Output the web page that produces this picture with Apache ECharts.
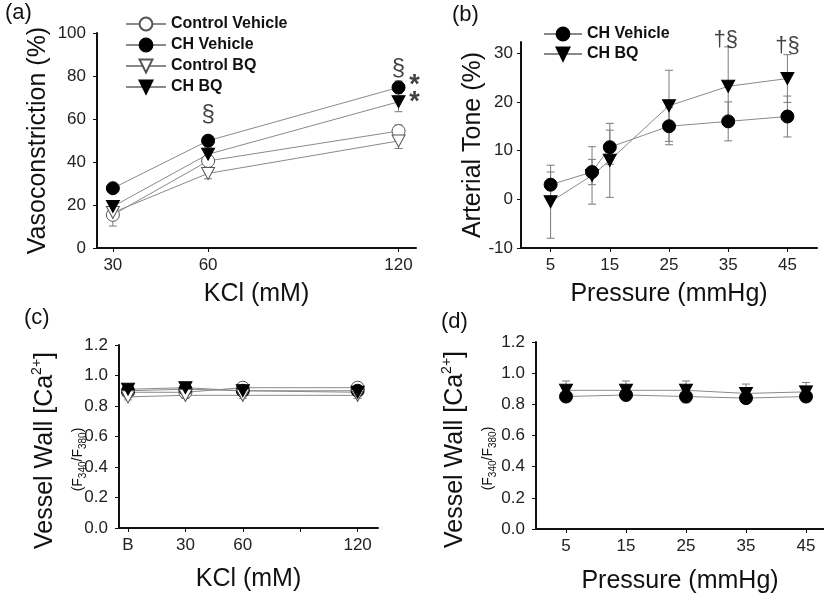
<!DOCTYPE html>
<html>
<head>
<meta charset="utf-8">
<script src="https://cdn.jsdelivr.net/npm/echarts@6/dist/echarts.min.js"></script>
<style>
  html, body { margin: 0; padding: 0; background: #fff; }
  #chart { width: 824px; height: 595px; }
</style>
</head>
<body>
<div id="chart"></div>
<script>
// ---- (a) KCl vasoconstriction ----
const kclDoses = [30, 60, 120];
const ctrlVehA = [15.4, 40.5, 54.4];
const ctrlVehAErr = [5.2, 2.5, 2.8];
const chVehA = [27.8, 49.9, 74.7];
const chVehAErr = [2, 2.5, 3];
const ctrlBqA = [16.5, 34.7, 49.8];
const ctrlBqAErr = [2, 2.5, 3.5];
const chBqA = [19.3, 43.6, 68];
const chBqAErr = [2, 3, 4.6];
// significance marks [x, y, text]
const sigA = [[60, 62, '§'], [120, 83.5, '§']];
const starA = [[125, 75.5, '*'], [125, 67.6, '*']];

// ---- (b) pressure / arterial tone ----
const pressB = [5, 12, 15, 25, 35, 45];
const chVehB = [3.0, 5.6, 10.7, 15.0, 16.0, 17.0];
const chVehBErr = [2.6, 2.6, 3.5, 3.8, 4.0, 4.2];
const chBqB = [-0.5, 4.9, 8.0, 19.2, 23.2, 24.8];
const chBqBErr = [7.5, 5.9, 7.6, 7.3, 8.1, 4.9];
const sigB = [[34.6, 32.8, '†§'], [45, 31.4, '†§']];

// ---- (c) KCl vessel wall Ca ----
const kclPosC = [0, 1, 2, 4];
const kclLabelsC = { 0: 'B', 1: '30', 2: '60', 4: '120' };
const ctrlVehC = [0.89, 0.89, 0.92, 0.92];
const chVehC = [0.90, 0.91, 0.90, 0.90];
const ctrlBqC = [0.86, 0.87, 0.87, 0.87];
const chBqC = [0.91, 0.92, 0.90, 0.89];
const errC = [0.02, 0.02, 0.02, 0.02];

// ---- (d) pressure vessel wall Ca ----
const pressD = [5, 15, 25, 35, 45];
const chVehD = [0.85, 0.86, 0.85, 0.84, 0.85];
const chVehDErr = [0.03, 0.03, 0.04, 0.03, 0.03];
const chBqD = [0.89, 0.89, 0.89, 0.87, 0.88];
const chBqDErr = [0.06, 0.06, 0.06, 0.06, 0.06];

const fontFamily = "'Liberation Sans', Arial, sans-serif";
const axisColor = '#111';
const lineGray = '#8a8a8a';
const errGray = '#7a7a7a';
const downTri = 'path://M0,0L12,0L6,11Z';

const chart = echarts.init(document.getElementById('chart'));

function lineSeries(name, idx, xs, ys, filled, tri) {
  return {
    name: name,
    type: 'line',
    xAxisIndex: idx,
    yAxisIndex: idx,
    z: 3,
    data: xs.map((x, i) => [x, ys[i]]),
    symbol: tri ? downTri : 'circle',
    symbolSize: tri ? [13, 12] : 13,
    showAllSymbol: true,
    lineStyle: { color: lineGray, width: 1 },
    itemStyle: filled
      ? { color: '#000', borderColor: '#000', borderWidth: 1 }
      : { color: '#fff', borderColor: '#555', borderWidth: 1 },
    emphasis: { disabled: true }
  };
}

function errSeries(idx, xs, ys, errs) {
  return {
    type: 'custom',
    xAxisIndex: idx,
    yAxisIndex: idx,
    z: 2,
    silent: true,
    data: xs.map((x, i) => [x, ys[i] - errs[i], ys[i] + errs[i]]),
    renderItem: function (params, api) {
      const lo = api.coord([api.value(0), api.value(1)]);
      const hi = api.coord([api.value(0), api.value(2)]);
      const w = 4;
      const st = { stroke: errGray, lineWidth: 1 };
      return {
        type: 'group',
        children: [
          { type: 'line', shape: { x1: hi[0], y1: hi[1], x2: lo[0], y2: lo[1] }, style: st },
          { type: 'line', shape: { x1: hi[0] - w, y1: hi[1], x2: hi[0] + w, y2: hi[1] }, style: st },
          { type: 'line', shape: { x1: lo[0] - w, y1: lo[1], x2: lo[0] + w, y2: lo[1] }, style: st }
        ]
      };
    }
  };
}

function markSeries(idx, marks, size, weight) {
  return {
    type: 'scatter',
    xAxisIndex: idx,
    yAxisIndex: idx,
    clip: false,
    silent: true,
    z: 5,
    symbolSize: 1,
    itemStyle: { color: 'transparent' },
    data: marks.map(m => ({ value: [m[0], m[1]], label: { formatter: m[2] } })),
    label: { show: true, position: 'inside', fontSize: size, fontWeight: weight || 'normal', color: '#111', fontFamily: fontFamily }
  };
}

function xAxisCfg(idx, min, max, ticks, name, gap, fmt) {
  return {
    type: 'value', gridIndex: idx, min: min, max: max,
    name: name, nameLocation: 'middle', nameGap: gap, nameMoveOverlap: false,
    nameTextStyle: { fontSize: 25, color: axisColor, fontFamily: fontFamily },
    axisLine: { show: true, onZero: false, lineStyle: { color: axisColor, width: 2 } },
    axisTick: { show: true, customValues: ticks, length: 4, lineStyle: { color: axisColor, width: 1 } },
    axisLabel: {
      customValues: fmt ? Object.keys(fmt).map(Number) : ticks,
      formatter: fmt ? (v => fmt[v]) : (v => String(v)),
      fontSize: 17, margin: 9, color: '#222', fontFamily: fontFamily
    },
    splitLine: { show: false }
  };
}

function yAxisCfg(idx, min, max, ticks, name, gap, fmt, textStyle, labelMargin) {
  return {
    type: 'value', gridIndex: idx, min: min, max: max,
    name: name, nameLocation: 'middle', nameGap: gap, nameRotate: 90, nameMoveOverlap: false,
    nameTextStyle: Object.assign({ fontSize: 25, color: axisColor, fontFamily: fontFamily, lineHeight: 30 }, textStyle || {}),
    axisLine: { show: true, onZero: false, lineStyle: { color: axisColor, width: 2 } },
    axisTick: { show: true, customValues: ticks, length: 4, lineStyle: { color: axisColor, width: 1 } },
    axisLabel: {
      customValues: ticks,
      formatter: fmt || (v => String(v)),
      fontSize: 17, margin: labelMargin || 11, color: '#222', fontFamily: fontFamily
    },
    splitLine: { show: false }
  };
}

const caName = 'Vessel Wall [Ca{sup|2+}]\n{s|(F}{sb|340}{s|/F}{sb|380}{se|)}';
const caRich = {
  padding: [0, 28, 0, 0],
  rich: {
    sup: { fontSize: 14, lineHeight: 14, verticalAlign: 'top', color: axisColor, fontFamily: fontFamily },
    s: { fontSize: 14, lineHeight: 36, color: axisColor, fontFamily: fontFamily },
    se: { fontSize: 14, lineHeight: 36, padding: [0, 18, 0, 0], color: axisColor, fontFamily: fontFamily },
    sb: { fontSize: 10, lineHeight: 12, padding: [10, 0, 0, 0], color: axisColor, fontFamily: fontFamily }
  }
};
const fmt1 = v => v.toFixed(1);
const legendText = { fontSize: 16, fontWeight: 'bold', color: '#111', fontFamily: fontFamily, lineHeight: 16 };

const option = {
  animation: false,
  backgroundColor: '#fff',
  textStyle: { fontFamily: fontFamily },
  grid: [
    { left: 97, top: 33, width: 319, height: 215 },
    { left: 521, top: 42, width: 296, height: 206 },
    { left: 119, top: 345, width: 259, height: 183 },
    { left: 536, top: 342, width: 288, height: 188 }
  ],
  xAxis: [
    xAxisCfg(0, 25, 125.5, kclDoses, 'KCl (mM)', 34),
    xAxisCfg(1, 0, 50, [5, 15, 25, 35, 45], 'Pressure (mmHg)', 34),
    xAxisCfg(2, -0.157, 4.355, [0, 1, 2, 3, 4], 'KCl (mM)', 39, kclLabelsC),
    xAxisCfg(3, 0, 48, [5, 15, 25, 35, 45], 'Pressure (mmHg)', 40)
  ],
  yAxis: [
    yAxisCfg(0, 0, 100, [0, 20, 40, 60, 80, 100], 'Vasoconstriction (%)', 44),
    yAxisCfg(1, -10, 32.3, [-10, 0, 10, 20, 30], 'Arterial Tone (%)', 33, null, null, 8),
    yAxisCfg(2, 0, 1.2, [0, 0.2, 0.4, 0.6, 0.8, 1.0, 1.2], caName, 23, fmt1, caRich),
    yAxisCfg(3, 0, 1.2, [0, 0.2, 0.4, 0.6, 0.8, 1.0, 1.2], caName, 30, fmt1, caRich)
  ],
  legend: [
    {
      data: ['Control Vehicle', 'CH Vehicle', 'Control BQ', 'CH BQ'],
      orient: 'vertical', left: 120, top: 11,
      itemWidth: 40, itemHeight: 16, itemGap: 5, selectedMode: false,
      textStyle: legendText
    },
    {
      data: ['CH Vehicle', 'CH BQ'],
      orient: 'vertical', left: 538, top: 21,
      itemWidth: 38, itemHeight: 16, itemGap: 4, selectedMode: false,
      textStyle: legendText
    }
  ],
  graphic: [
    { type: 'text', left: 5, top: 2, style: { text: '(a)', fontSize: 22, fill: '#111', fontFamily: fontFamily } },
    { type: 'text', left: 452, top: 4, style: { text: '(b)', fontSize: 22, fill: '#111', fontFamily: fontFamily } },
    { type: 'text', left: 24, top: 307, style: { text: '(c)', fontSize: 22, fill: '#111', fontFamily: fontFamily } },
    { type: 'text', left: 441, top: 311, style: { text: '(d)', fontSize: 22, fill: '#111', fontFamily: fontFamily } }
  ],
  series: [
    errSeries(0, kclDoses, ctrlVehA, ctrlVehAErr),
    errSeries(0, kclDoses, chVehA, chVehAErr),
    errSeries(0, kclDoses, ctrlBqA, ctrlBqAErr),
    errSeries(0, kclDoses, chBqA, chBqAErr),
    lineSeries('Control Vehicle', 0, kclDoses, ctrlVehA, false, false),
    lineSeries('CH Vehicle', 0, kclDoses, chVehA, true, false),
    lineSeries('Control BQ', 0, kclDoses, ctrlBqA, false, true),
    lineSeries('CH BQ', 0, kclDoses, chBqA, true, true),
    markSeries(0, sigA, 24),
    markSeries(0, starA, 27, 'bold'),

    errSeries(1, pressB, chVehB, chVehBErr),
    errSeries(1, pressB, chBqB, chBqBErr),
    lineSeries('CH Vehicle', 1, pressB, chVehB, true, false),
    lineSeries('CH BQ', 1, pressB, chBqB, true, true),
    markSeries(1, sigB, 22),

    errSeries(2, kclPosC, ctrlVehC, errC),
    errSeries(2, kclPosC, chVehC, errC),
    errSeries(2, kclPosC, ctrlBqC, errC),
    errSeries(2, kclPosC, chBqC, errC),
    lineSeries('Control Vehicle', 2, kclPosC, ctrlVehC, false, false),
    lineSeries('CH Vehicle', 2, kclPosC, chVehC, true, false),
    lineSeries('Control BQ', 2, kclPosC, ctrlBqC, false, true),
    lineSeries('CH BQ', 2, kclPosC, chBqC, true, true),

    errSeries(3, pressD, chVehD, chVehDErr),
    errSeries(3, pressD, chBqD, chBqDErr),
    lineSeries('CH Vehicle', 3, pressD, chVehD, true, false),
    lineSeries('CH BQ', 3, pressD, chBqD, true, true)
  ]
};

chart.setOption(option);
</script>
</body>
</html>
